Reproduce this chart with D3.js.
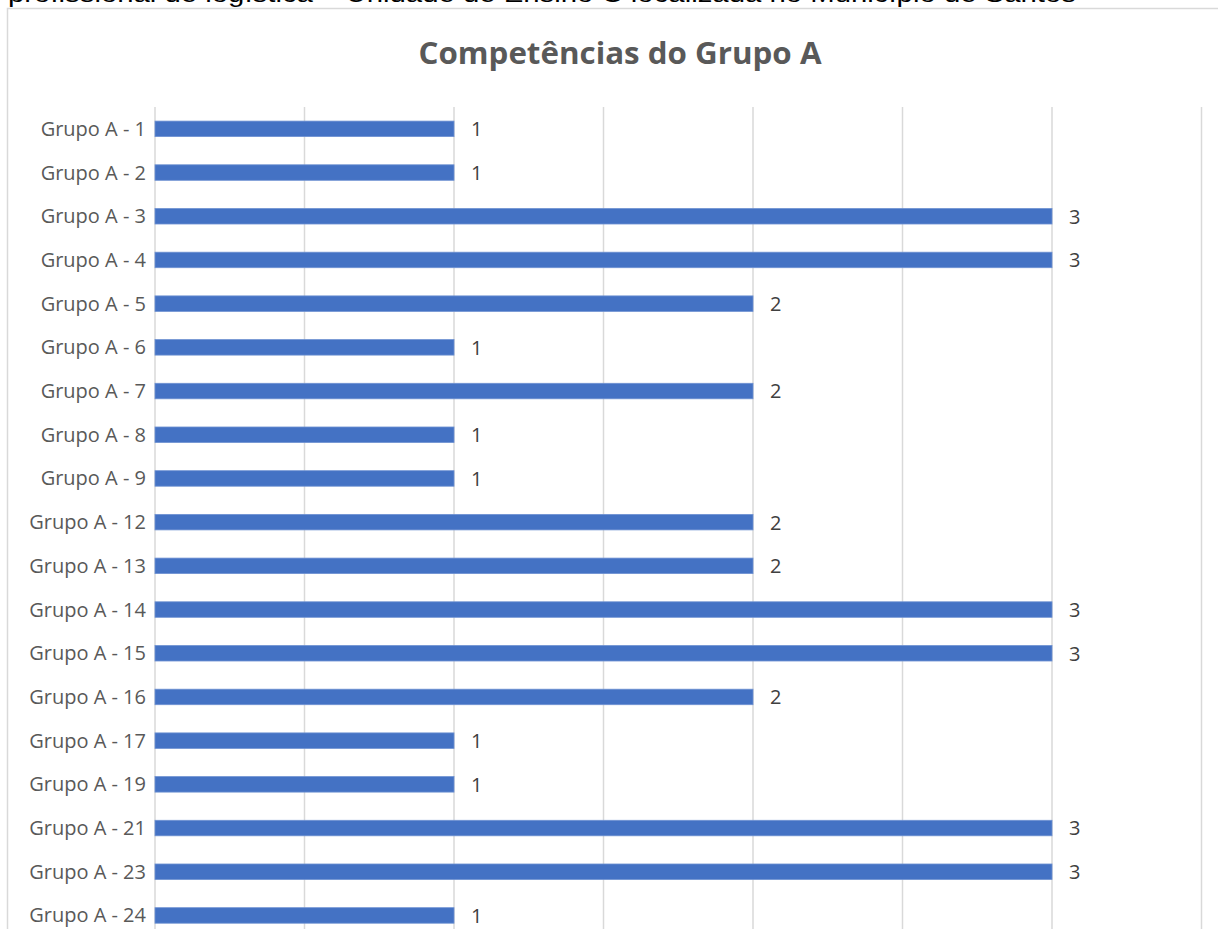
<!DOCTYPE html>
<html>
<head>
<meta charset="utf-8">
<script src="https://cdn.jsdelivr.net/npm/d3@7"></script>
<style>
  html, body { margin: 0; padding: 0; background: #fff; overflow: hidden; }
</style>
</head>
<body>
<svg id="chart"></svg>
<script>
// chart data
var categories = ['Grupo A - 1', 'Grupo A - 2', 'Grupo A - 3', 'Grupo A - 4', 'Grupo A - 5',
  'Grupo A - 6', 'Grupo A - 7', 'Grupo A - 8', 'Grupo A - 9', 'Grupo A - 12', 'Grupo A - 13',
  'Grupo A - 14', 'Grupo A - 15', 'Grupo A - 16', 'Grupo A - 17', 'Grupo A - 19',
  'Grupo A - 21', 'Grupo A - 23', 'Grupo A - 24']
var values = [1, 1, 3, 3, 2, 1, 2, 1, 1, 2, 2, 3, 3, 2, 1, 1, 3, 3, 1]
var gridTicks = [0, 0.5, 1, 1.5, 2, 2.5, 3, 3.5]
var title = 'Competências do Grupo A'
var pageText = 'profissional de logística – Unidade de Ensino C localizada no Município de Santos'

var width = 1218, height = 929

var svg = d3.select('#chart')
    .attr('width', width)
    .attr('height', height)

// page text above the chart, cut off by the top edge like in the source
svg.append('text')
    .attr('x', 8)
    .attr('y', 1.5)
    .attr('font-family', 'Liberation Sans, Arial, sans-serif')
    .attr('font-size', 24)
    .attr('fill', '#000')
    .attr('textLength', 1068)
    .attr('lengthAdjust', 'spacingAndGlyphs')
    .text(pageText)

// chart frame
svg.append('rect')
    .attr('x', 7.5)
    .attr('y', 8.5)
    .attr('width', 1300)
    .attr('height', 1000)
    .attr('fill', '#fff')
    .attr('stroke', '#d9d9d9')
    .attr('stroke-width', 1.5)

// title
svg.append('text')
    .attr('x', 620)
    .attr('y', 64)
    .attr('text-anchor', 'middle')
    .attr('font-family', 'Open Sans, sans-serif')
    .attr('font-weight', 'bold')
    .attr('font-size', 31)
    .attr('fill', '#595959')
    .attr('textLength', 403)
    .attr('lengthAdjust', 'spacingAndGlyphs')
    .text(title)

// scales
var x = d3.scaleLinear()
    .domain([0, 3.5])
    .range([155, 1201.5])

var y = d3.scaleBand()
    .domain(categories)
    .range([107, 937.3])
    .paddingInner(0.645)
    .paddingOuter(0.3225)

// vertical gridlines
svg.append('g')
    .selectAll('line')
    .data(gridTicks)
  .enter().append('line')
    .attr('x1', function (d) { return x(d) })
    .attr('x2', function (d) { return x(d) })
    .attr('y1', 107)
    .attr('y2', 940)
    .attr('stroke', '#d9d9d9')
    .attr('stroke-width', 1.5)

var rows = categories.map(function (c, i) { return {cat: c, value: values[i]} })

// bars
svg.selectAll('.bar')
    .data(rows)
  .enter().append('rect')
    .attr('class', 'bar')
    .attr('x', x(0))
    .attr('y', function (d) { return y(d.cat) })
    .attr('width', function (d) { return x(d.value) - x(0) })
    .attr('height', y.bandwidth())
    .attr('fill', '#4472c4')
    .attr('stroke', '#6f92d2')
    .attr('stroke-width', 0.8)

// category labels
svg.selectAll('.cat-label')
    .data(rows)
  .enter().append('text')
    .attr('class', 'cat-label')
    .attr('x', 146)
    .attr('y', function (d) { return y(d.cat) + y.bandwidth() / 2 })
    .attr('dy', '0.35em')
    .attr('text-anchor', 'end')
    .attr('font-family', 'Open Sans, sans-serif')
    .attr('font-size', 20)
    .attr('fill', '#595959')
    .text(function (d) { return d.cat })

// value labels
svg.selectAll('.bar-label')
    .data(rows)
  .enter().append('text')
    .attr('class', 'bar-label')
    .attr('x', function (d) { return x(d.value) + 17 })
    .attr('y', function (d) { return y(d.cat) + y.bandwidth() / 2 })
    .attr('dy', '0.37em')
    .attr('font-family', 'Open Sans, sans-serif')
    .attr('font-size', 20)
    .attr('fill', '#404040')
    .text(function (d) { return d.value })
</script>
</body>
</html>
